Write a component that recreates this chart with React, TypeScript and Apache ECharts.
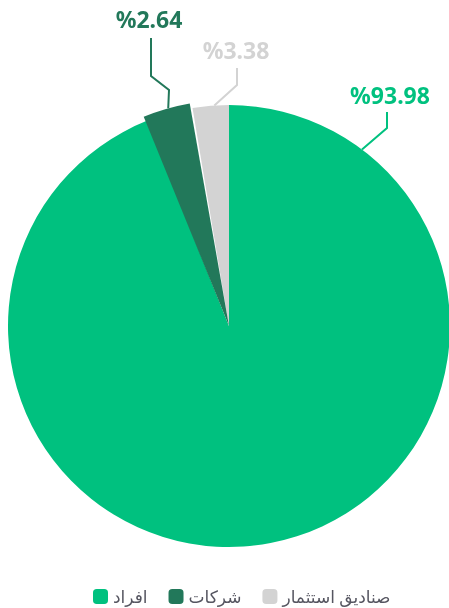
import React, { useEffect, useRef } from "react";
import * as echarts from "echarts";

const categories = ["افراد", "شركات", "صناديق استثمار"];
const sliceValues = [93.98, 3.38, 2.64];
const labelTexts = ["%93.98", "%2.64", "%3.38"];
const colors = ["#00c17f", "#22785a", "#d3d3d3"];

const CX = 229;
const CY = 326;
const R = 221;
const R_EMPH = 226;

function polar(deg: number, r: number): number[] {
  const a = (deg * Math.PI) / 180;
  return [CX + r * Math.sin(a), CY - r * Math.cos(a)];
}

const labelCenters = [
  [390, 95],
  [149, 19],
  [236, 50],
];

const labelLines = [
  [polar(37, R), [387, 128], [387, 112]],
  [polar(-15.6, R_EMPH), [169, 90], [151, 76], [151, 38]],
  [polar(-3.8, R), [237, 85], [237, 68]],
];

export default function App() {
  const ref = useRef<HTMLDivElement>(null);
  useEffect(() => {
    if (!ref.current) return;
    const chart = echarts.init(ref.current, undefined, { renderer: "svg" });
    const font = "'Noto Sans', 'DejaVu Sans', sans-serif";
    chart.setOption({
      animation: false,
      legend: {
        left: 88,
        top: 583,
        icon: "roundRect",
        itemWidth: 15,
        itemHeight: 15,
        itemGap: 21,
        textStyle: { fontSize: 17, color: "#555560", fontFamily: font },
        data: categories.map((n, i) => ({ name: n, itemStyle: { color: colors[i] } })),
      },
      series: [
        {
          type: "pie",
          center: [CX, CY],
          radius: R,
          startAngle: 90,
          clockwise: true,
          avoidLabelOverlap: false,
          emphasis: { disabled: true },
          label: {
            show: true,
            position: "outside",
            fontFamily: font,
            fontWeight: "bold",
            fontSize: 23,
          },
          labelLine: { show: true, lineStyle: { width: 2 } },
          labelLayout: (p: any) => {
            const i = p.dataIndex;
            return {
              x: labelCenters[i][0],
              y: labelCenters[i][1],
              align: "center",
              verticalAlign: "middle",
              labelLinePoints: labelLines[i],
            };
          },
          data: categories.map((n, i) => ({
            name: n,
            value: sliceValues[i],
            itemStyle: { color: i === 1 ? "#ffffff" : colors[i] },
            label: { formatter: labelTexts[i], color: colors[i] },
            labelLine: { lineStyle: { color: colors[i], width: 2 } },
          })),
        },
        {
          type: "pie",
          center: [CX, CY],
          radius: R_EMPH,
          startAngle: 90.5,
          clockwise: true,
          silent: true,
          z: 3,
          emphasis: { disabled: true },
          label: { show: false },
          labelLine: { show: false },
          data: categories.map((n, i) => ({
            name: n,
            value: sliceValues[i],
            itemStyle: { color: i === 1 ? colors[i] : "rgba(0,0,0,0)" },
          })),
        },
      ],
    });
    return () => chart.dispose();
  }, []);
  return (
    <div
      ref={ref}
      style={{ position: "fixed", left: 0, top: 0, width: 449, height: 608 }}
    />
  );
}
